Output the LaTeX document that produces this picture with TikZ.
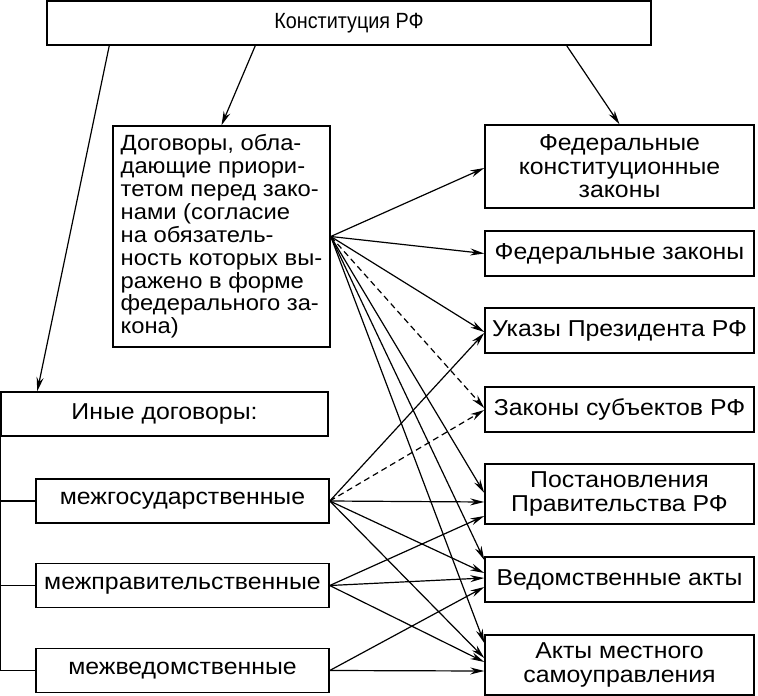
\documentclass[tikz,border=0pt]{standalone}
\usepackage{fontspec}
\setmainfont{Liberation Sans}[FakeStretch=1.08]
\newfontfamily\narrowfont[FakeStretch=0.9]{Liberation Sans}
\usetikzlibrary{arrows.meta}
\begin{document}
\begin{tikzpicture}[x=1pt, y=-1pt,
    box/.style={draw, line width=1.5pt, inner sep=0pt, align=center, font=\fontsize{23}{23.5}\selectfont},
    rbox/.style={box, minimum width=269, minimum height=45},
    lbox/.style={box, minimum width=293, minimum height=44},
    link/.style={-{Stealth[length=14pt,width=7pt]}, line width=1.2pt}]
  \useasboundingbox (0,0) rectangle (758,696);
  \node[box, minimum width=604, minimum height=44, font=\narrowfont\fontsize{22}{22}\selectfont] (konst) at (349,23) {Конституция РФ};
  \node[box, minimum width=217, minimum height=221, align=left, font=\fontsize{22}{22.9}\selectfont] (dog) at (221.5,236.5)
    {Договоры, обла-\\дающие приори-\\тетом перед зако-\\нами (согласие\\на обязатель-\\ность которых вы-\\ражено в форме\\федерального за-\\кона)};
  \node[rbox, minimum height=83] (fkz) at (619.5,166.5) {Федеральные\\конституционные\\законы};
  \node[rbox] (fz) at (619.5,253.5) {Федеральные законы};
  \node[rbox] (ukaz) at (619.5,330.5) {Указы Президента РФ};
  \node[rbox] (zsub) at (619.5,409.5) {Законы субъектов РФ};
  \node[rbox, minimum height=60] (post) at (619.5,494) {Постановления\\Правительства РФ};
  \node[rbox] (ved) at (619.5,579.5) {Ведомственные акты};
  \node[rbox, minimum height=60] (akty) at (619.5,665) {Акты местного\\самоуправления};
  \node[box, minimum width=327, minimum height=44] (inye) at (164.5,414) {Иные договоры:};
  \node[lbox] (mg) at (182.5,501) {межгосударственные};
  \node[lbox] (mp) at (182.5,585.5) {межправительственные};
  \node[lbox] (mv) at (182.5,670.5) {межведомственные};
  \draw[link] ([xshift=63]konst.south west) -- ([xshift=37]inye.north west);
  \draw[link] ([xshift=209]konst.south west) -- (dog.north);
  \draw[link] ([xshift=-85]konst.south east) -- (fkz.north);
  \draw[line width=1.3pt] (inye.south west) |- (mv.west);
  \draw[line width=1.3pt] (inye.south west |- mg.west) -- (mg.west);
  \draw[line width=1.3pt] (inye.south west |- mp.west) -- (mp.west);
  \foreach \t/\s in {fkz/-1.5, fz/0, ukaz/-1.5, post/1, ved/19.5, akty/22}
    \draw[link] (dog.east) -- ([yshift=\s]\t.west);
  \draw[link, dash pattern=on 6pt off 4pt] (dog.east) -- ([yshift=1.5]zsub.west);
  \foreach \t/\s in {ukaz/-2.5, post/-8, ved/6.5, akty/7}
    \draw[link] (mg.east) -- ([yshift=\s]\t.west);
  \draw[link, dash pattern=on 6pt off 4pt] (mg.east) -- ([yshift=-0.5]zsub.west);
  \foreach \t/\s in {post/-22, ved/1.5, akty/3}
    \draw[link] (mp.east) -- ([yshift=\s]\t.west);
  \foreach \t/\s in {ved/-7.5, akty/-6}
    \draw[link] (mv.east) -- ([yshift=\s]\t.west);
\end{tikzpicture}
\end{document}
